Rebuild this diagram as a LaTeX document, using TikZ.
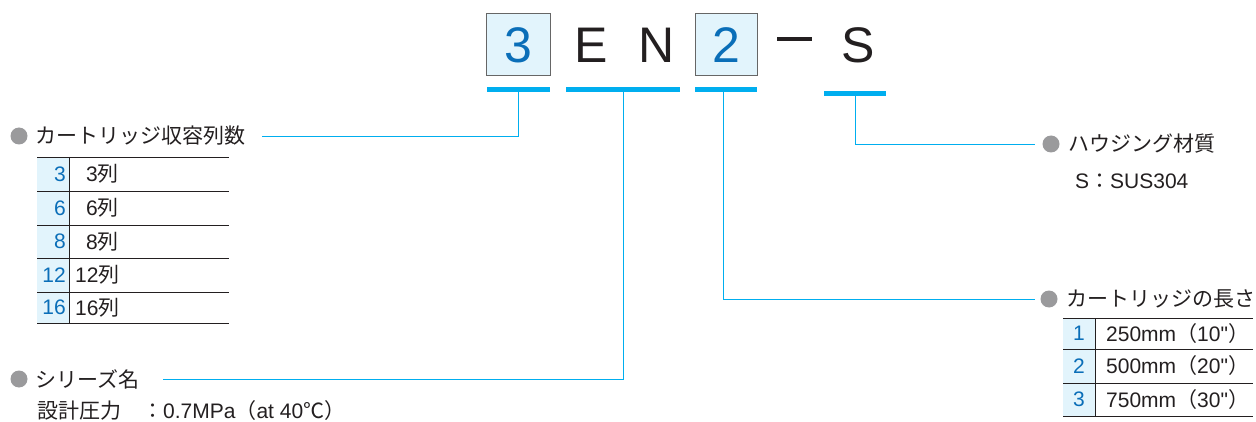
\documentclass[tikz,border=0pt]{standalone}
\usepackage{fontspec}
\setmainfont{Liberation Sans}
\newfontfamily\jp{Noto Sans CJK JP}
\newfontfamily\lat{Liberation Sans}
\definecolor{keyblue}{HTML}{0A6EB8}
\definecolor{barcyan}{HTML}{00AEEF}
\definecolor{lightfill}{HTML}{E2F4FC}
\definecolor{bulletgray}{HTML}{9A9A9C}
\definecolor{txt}{HTML}{231F20}
\begin{document}
\begin{tikzpicture}[x=1pt,y=-1pt,
  bigchar/.style={font=\fontsize{50}{50}\selectfont, text=txt, inner sep=0pt},
  keybox/.style={draw=gray!80!black, line width=1pt, fill=lightfill},
  bar/.style={fill=barcyan, draw=none},
  leader/.style={draw=barcyan, line width=0.8pt},
  bullet/.style={circle, fill=bulletgray, minimum size=17pt, inner sep=0pt},
  label/.style={font=\jp\fontsize{21}{21}\selectfont, text=txt, anchor=west, inner sep=0pt},
  cell/.style={font=\fontsize{21}{21}\selectfont, text=txt, anchor=west, inner sep=0pt},
  keycell/.style={font=\fontsize{21}{21}\selectfont, text=keyblue, anchor=east, inner sep=0pt},
  rule/.style={draw=txt, line width=0.8pt}
]
\useasboundingbox (0,0) rectangle (1256,422);
% top code
\draw[keybox] (486,14) rectangle (550,76);
\draw[keybox] (695,14) rectangle (757,76);
\node[bigchar, text=keyblue] (c3) at (518,45) {3};
\node[bigchar] (cE) at (591,45) {E};
\node[bigchar] (cN) at (657,45) {N};
\node[bigchar, text=keyblue] (c2) at (726,45) {2};
\fill[txt] (777,37.5) rectangle (812,41.5);
\node[bigchar] (cS) at (858,45) {S};
% bars
\fill[bar] (487,87) rectangle (550,92);
\fill[bar] (566,87) rectangle (680,92);
\fill[bar] (695,87) rectangle (757,92);
\fill[bar] (824,91) rectangle (886,96);
\coordinate (b1) at (518,92);
\coordinate (b2) at (623,92);
\coordinate (b3) at (723,92);
\coordinate (b4) at (855,96);
\coordinate (e1) at (262,136);
\coordinate (e2) at (163,379);
\coordinate (e3) at (1035,299);
\coordinate (e4) at (1035,144);
\draw[leader] (b1) |- (e1);
\draw[leader] (b2) |- (e2);
\draw[leader] (b3) |- (e3);
\draw[leader] (b4) |- (e4);
% left block
\node[bullet] (bl1) at (19,136) {};
\node[label] (t1) at (35,136) {カートリッジ収容列数};
\fill[lightfill] (37,157) rectangle (69,323);
\foreach \y in {157,191,225,258,292,323} \draw[rule] (37,\y) -- (229,\y);
\draw[rule] (69,157) -- (69,323);
\foreach \k/\v/\y/\xx in {3/3/174/86,6/6/208/86,8/8/241.5/86,12/12/275/75,16/16/307.5/75}{
  \node[keycell] at (66,\y) {\k};
  \node[cell] at (\xx,\y) {\v{\jp 列}};
}
% series
\node[bullet] (bl2) at (19,379) {};
\node[label] (t2) at (35,379) {シリーズ名};
\node[label] (t3) at (37,411) {設計圧力　：{\lat 0.7MPa}（{\lat at 40}℃）};
% right housing
\node[bullet] (bl3) at (1051,144) {};
\node[label] (t4) at (1068,144) {ハウジング材質};
\node[label] (t5) at (1075,181) {{\lat S}：{\lat SUS304}};
% right length
\node[bullet] (bl4) at (1049,299) {};
\node[label] (t6) at (1066,299) {カートリッジの長さ};
\fill[lightfill] (1063,318) rectangle (1095,416);
\foreach \y in {318,349,383,416} \draw[rule] (1063,\y) -- (1253,\y);
\draw[rule] (1095,318) -- (1095,416);
\foreach \k/\y in {1/333.5,2/366,3/399.5}{
  \node[font=\fontsize{21}{21}\selectfont, text=keyblue, inner sep=0pt] at (1079,\y) {\k};
}
\node[label] at (1106,333.5) {{\lat 250mm}（{\lat 10"}）};
\node[label] at (1106,366) {{\lat 500mm}（{\lat 20"}）};
\node[label] at (1106,399.5) {{\lat 750mm}（{\lat 30"}）};
\end{tikzpicture}
\end{document}
